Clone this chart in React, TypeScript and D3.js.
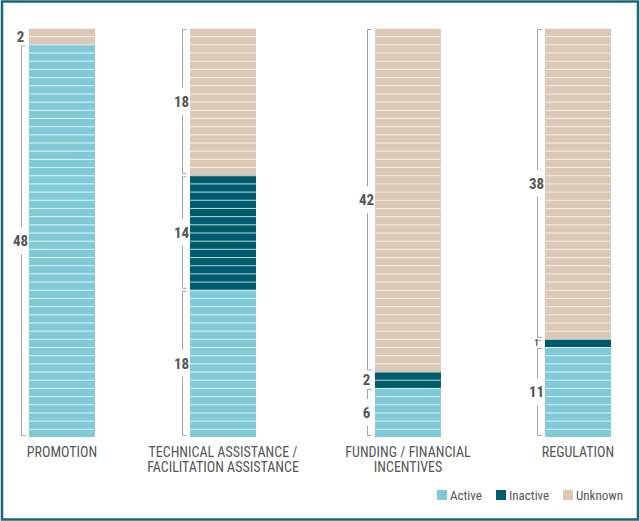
import { useEffect, useRef } from 'react';
import * as d3 from 'd3';

const categories = ['PROMOTION', 'TECHNICAL ASSISTANCE /\nFACILITATION ASSISTANCE', 'FUNDING / FINANCIAL\nINCENTIVES', 'REGULATION'];
const activeValues = [48, 18, 6, 11];
const inactiveValues = [0, 14, 2, 1];
const unknownValues = [2, 18, 42, 38];
const seriesNames = ['Active', 'Inactive', 'Unknown'];
const seriesColors = ['#80cad8', '#005b6d', '#dbc7b5'];

const FONT = "'Liberation Sans Narrow', 'Roboto Condensed', 'DejaVu Sans Condensed', sans-serif";

const App = () => {
  const svgRef = useRef<SVGSVGElement>(null);

  useEffect(() => {
    const W = 640;
    const H = 521;
    const barW = 66;
    const svgSel = d3.select(svgRef.current);
    svgSel.selectAll('*').remove();
    const svg = svgSel.attr('width', W).attr('height', H);

    // frame
    svg
      .append('rect')
      .attr('x', 2)
      .attr('y', 1.5)
      .attr('width', 636)
      .attr('height', 518)
      .attr('fill', 'none')
      .style('stroke', '#1d6674')
      .style('stroke-width', '2.5px');

    const x = d3.scaleOrdinal<string, number>().domain(categories).range([29, 190, 375, 545]);
    const y = d3.scaleLinear().domain([0, 50]).range([437, 28]);

    const rows = categories.map((c, i) => ({
      cat: c,
      Active: activeValues[i],
      Inactive: inactiveValues[i],
      Unknown: unknownValues[i],
    }));
    const stack = d3.stack<any>().keys(seriesNames)(rows);

    stack.forEach((layer, si) => {
      layer.forEach((seg, ci) => {
        const v = seg[1] - seg[0];
        if (v <= 0) return;
        const bx = x(categories[ci]);
        const top = y(seg[1]);
        const bot = y(seg[0]);
        const g = svg.append('g');
        g.append('rect')
          .attr('x', bx)
          .attr('y', top)
          .attr('width', barW)
          .attr('height', bot - top)
          .attr('fill', seriesColors[si]);
        // unit separators
        d3.range(seg[0] + 1, seg[1] + 1).forEach((k) => {
          g.append('line')
            .attr('x1', bx)
            .attr('x2', bx + barW)
            .attr('y1', y(k) + 0.5)
            .attr('y2', y(k) + 0.5)
            .attr('stroke', 'white')
            .attr('stroke-opacity', 0.75)
            .attr('stroke-width', 1);
        });

        // bracket + label
        const bxLine = bx - 7.5;
        const fs = v >= 2 ? 15 : 9;
        const mid = (top + bot) / 2;
        const gap = fs / 2 + 6;
        const b0 = top + 1.5;
        const b1 = bot - 1.5;
        const bs = g.append('g').attr('stroke', '#a0a0a0').attr('stroke-width', 1).attr('fill', 'none');
        if (mid - gap > b0) {
          bs.append('path').attr('d', `M${bxLine + 4},${b0}H${bxLine}V${mid - gap}`);
          bs.append('path').attr('d', `M${bxLine},${mid + gap}V${b1}H${bxLine + 4}`);
        } else if (v < 2) {
          bs.append('path').attr('d', `M${bxLine + 4},${b0}H${bxLine}`);
        }
        g.append('text')
          .attr('x', bxLine - 1)
          .attr('y', mid)
          .attr('dy', '0.36em')
          .attr('text-anchor', 'middle')
          .attr('fill', '#555')
          .style('font-family', FONT)
          .style('font-weight', 'bold')
          .style('font-size', `${fs}px`)
          .text(v);
      });
    });

    // category labels
    categories.forEach((c) => {
      const t = svg
        .append('text')
        .attr('x', x(c) + barW / 2)
        .attr('y', 457)
        .attr('text-anchor', 'middle')
        .attr('fill', '#555')
        .style('font-family', FONT)
        .style('font-size', '14px');
      c.split('\n').forEach((line, li) => {
        t.append('tspan')
          .attr('x', x(c) + barW / 2)
          .attr('dy', li === 0 ? 0 : 14.5)
          .text(line);
      });
    });

    // legend
    const legendX = [437, 496, 563];
    seriesNames.forEach((s, i) => {
      svg
        .append('rect')
        .attr('x', legendX[i])
        .attr('y', 490)
        .attr('width', 10)
        .attr('height', 10)
        .attr('fill', seriesColors[i]);
      svg
        .append('text')
        .attr('x', legendX[i] + 13)
        .attr('y', 500)
        .attr('fill', '#555')
        .style('font-family', FONT)
        .style('font-size', '13px')
        .text(s);
    });
  }, []);

  return (
    <svg
      ref={svgRef}
      style={{ position: 'absolute', left: 0, top: 0, display: 'block' }}
    ></svg>
  );
};

export default App;
